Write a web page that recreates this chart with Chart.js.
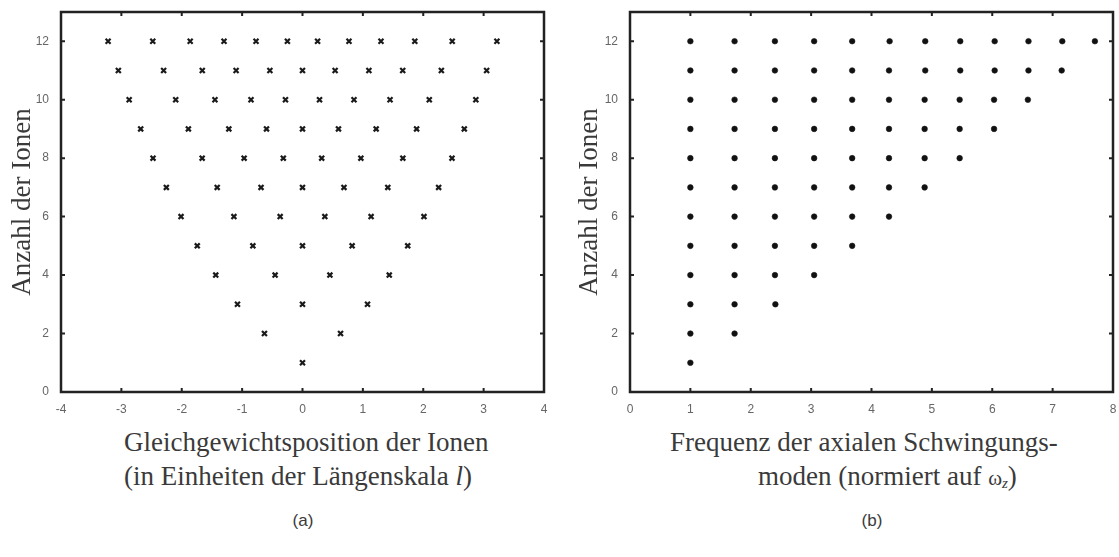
<!DOCTYPE html>
<html>
<head>
<meta charset="utf-8">
<script src="https://cdn.jsdelivr.net/npm/chart.js@4/dist/chart.umd.min.js"></script>
<style>
  html, body { margin: 0; padding: 0; background: #fff; }
  #wrap { position: relative; width: 1119px; height: 557px; overflow: hidden; background: #fff; }
  .cv { position: absolute; top: 0; }
  .t { position: absolute; font-family: "Liberation Serif", "Times New Roman", serif; font-size: 27px; line-height: 34px; color: #3a3a3a; white-space: nowrap; }
  .cap { position: absolute; font-family: "Liberation Sans", Arial, sans-serif; font-size: 17px; color: #3a3a3a; transform: translateX(-50%); }
</style>
</head>
<body>
<div id="wrap">
  <div class="cv" style="left:0;width:560px;height:420px;"><canvas id="c1" width="560" height="420"></canvas></div>
  <div class="cv" style="left:560px;width:559px;height:420px;"><canvas id="c2" width="559" height="420"></canvas></div>
  <div class="t" style="left:124px;top:425px;">Gleichgewichtsposition der Ionen</div>
  <div class="t" style="left:124px;top:459px;">(in Einheiten der Längenskala <i>l</i>)</div>
  <div class="t" style="left:670px;top:425px;">Frequenz der axialen Schwingungs-</div>
  <div class="t" style="left:758px;top:459px;">moden (normiert auf <span style="font-size:21px">ω</span><i style="font-size:15px;position:relative;top:3px;">z</i>)</div>
  <div class="cap" style="left:303px;top:511px;">(a)</div>
  <div class="cap" style="left:872px;top:511px;">(b)</div>
</div>
<script>
// ---- data ----
const ionCounts = [1, 2, 3, 4, 5, 6, 7, 8, 9, 10, 11, 12];

// equilibrium positions (units of length scale l)
const pos1  = [0];
const pos2  = [-0.63, 0.63];
const pos3  = [-1.077, 0, 1.077];
const pos4  = [-1.437, -0.454, 0.454, 1.437];
const pos5  = [-1.743, -0.822, 0, 0.822, 1.743];
const pos6  = [-2.012, -1.136, -0.370, 0.370, 1.136, 2.012];
const pos7  = [-2.255, -1.413, -0.687, 0, 0.687, 1.413, 2.255];
const pos8  = [-2.476, -1.662, -0.967, -0.318, 0.318, 0.967, 1.662, 2.476];
const pos9  = [-2.680, -1.890, -1.220, -0.596, 0, 0.596, 1.220, 1.890, 2.680];
const pos10 = [-2.871, -2.100, -1.450, -0.853, -0.282, 0.282, 0.853, 1.450, 2.100, 2.871];
const pos11 = [-3.05, -2.30, -1.66, -1.10, -0.54, 0, 0.54, 1.10, 1.66, 2.30, 3.05];
const pos12 = [-3.22, -2.48, -1.86, -1.30, -0.77, -0.25, 0.25, 0.77, 1.30, 1.86, 2.48, 3.22];
const positions = [pos1, pos2, pos3, pos4, pos5, pos6, pos7, pos8, pos9, pos10, pos11, pos12];

// axial mode frequencies (units of omega_z)
const freq1  = [1];
const freq2  = [1, 1.732];
const freq3  = [1, 1.732, 2.408];
const freq4  = [1, 1.732, 2.401, 3.05];
const freq5  = [1, 1.732, 2.40, 3.05, 3.68];
const freq6  = [1, 1.732, 2.40, 3.05, 3.68, 4.29];
const freq7  = [1, 1.732, 2.40, 3.05, 3.68, 4.29, 4.88];
const freq8  = [1, 1.732, 2.40, 3.05, 3.68, 4.29, 4.88, 5.46];
const freq9  = [1, 1.732, 2.40, 3.05, 3.68, 4.29, 4.88, 5.46, 6.03];
const freq10 = [1, 1.732, 2.40, 3.05, 3.68, 4.29, 4.88, 5.46, 6.03, 6.59];
const freq11 = [1, 1.732, 2.40, 3.05, 3.68, 4.29, 4.89, 5.47, 6.04, 6.60, 7.15];
const freq12 = [1, 1.732, 2.40, 3.05, 3.68, 4.30, 4.89, 5.47, 6.04, 6.60, 7.16, 7.70];
const frequencies = [freq1, freq2, freq3, freq4, freq5, freq6, freq7, freq8, freq9, freq10, freq11, freq12];

const xTicksA = [-4, -3, -2, -1, 0, 1, 2, 3, 4];
const xTicksB = [0, 1, 2, 3, 4, 5, 6, 7, 8];
const yTicks = [0, 2, 4, 6, 8, 10, 12];

// ---- helpers ----
function toPoints(rows) {
  const pts = [];
  rows.forEach((row, i) => row.forEach(v => pts.push({ x: v, y: ionCounts[i] })));
  return pts;
}

const framePlugin = {
  id: 'frame',
  beforeDatasetsDraw(chart) {
    const { ctx, chartArea: a, scales } = chart;
    ctx.save();
    ctx.strokeStyle = '#222';
    ctx.lineWidth = 2;
    const tl = 4;
    scales.x.ticks.forEach(t => {
      const px = scales.x.getPixelForValue(t.value);
      ctx.beginPath();
      ctx.moveTo(px, a.bottom); ctx.lineTo(px, a.bottom - tl);
      ctx.moveTo(px, a.top); ctx.lineTo(px, a.top + tl);
      ctx.stroke();
    });
    scales.y.ticks.forEach(t => {
      const py = scales.y.getPixelForValue(t.value);
      ctx.beginPath();
      ctx.moveTo(a.left, py); ctx.lineTo(a.left + tl, py);
      ctx.moveTo(a.right, py); ctx.lineTo(a.right - tl, py);
      ctx.stroke();
    });
    ctx.lineWidth = 2.5;
    ctx.strokeRect(a.left, a.top, a.right - a.left, a.bottom - a.top);
    ctx.restore();
  }
};

function makeChart(id, data, xmin, xmax, xTicks, ptStyle, yWidth, titlePad, padRight) {
  return new Chart(document.getElementById(id), {
    type: 'scatter',
    data: {
      datasets: [{
        data: data,
        pointStyle: ptStyle,
        pointRadius: ptStyle === 'crossRot' ? 3.5 : 2.8,
        pointBorderWidth: ptStyle === 'crossRot' ? 2.2 : 0.6,
        borderColor: '#1a1a1a',
        backgroundColor: '#111',
        pointHoverRadius: 3.5
      }]
    },
    options: {
      responsive: false,
      animation: false,
      events: [],
      layout: { padding: { top: 12, right: padRight, left: 0, bottom: 0 } },
      plugins: { legend: { display: false }, tooltip: { enabled: false } },
      scales: {
        x: {
          type: 'linear', min: xmin, max: xmax,
          afterBuildTicks: s => { s.ticks = xTicks.map(v => ({ value: v })); },
          grid: { display: false },
          border: { display: false },
          ticks: { color: '#666', font: { family: 'Liberation Sans', size: 12 }, padding: 2 },
          afterFit: s => { s.height = 28; }
        },
        y: {
          type: 'linear', min: 0, max: 13,
          afterBuildTicks: s => { s.ticks = yTicks.map(v => ({ value: v })); },
          grid: { display: false },
          border: { display: false },
          ticks: { color: '#666', font: { family: 'Liberation Sans', size: 12 }, padding: 4 },
          title: {
            display: true, text: 'Anzahl der Ionen', color: '#3a3a3a',
            font: { family: 'Liberation Serif', size: 27, lineHeight: 1.2 },
            padding: { top: titlePad, bottom: 0 }
          },
          afterFit: s => { s.width = yWidth; }
        }
      }
    },
    plugins: [framePlugin]
  });
}

makeChart('c1', toPoints(positions), -4, 4, xTicksA, 'crossRot', 61, 7, 16);
makeChart('c2', toPoints(frequencies), 0, 8, xTicksB, 'circle', 70, 14, 6);
</script>
</body>
</html>
